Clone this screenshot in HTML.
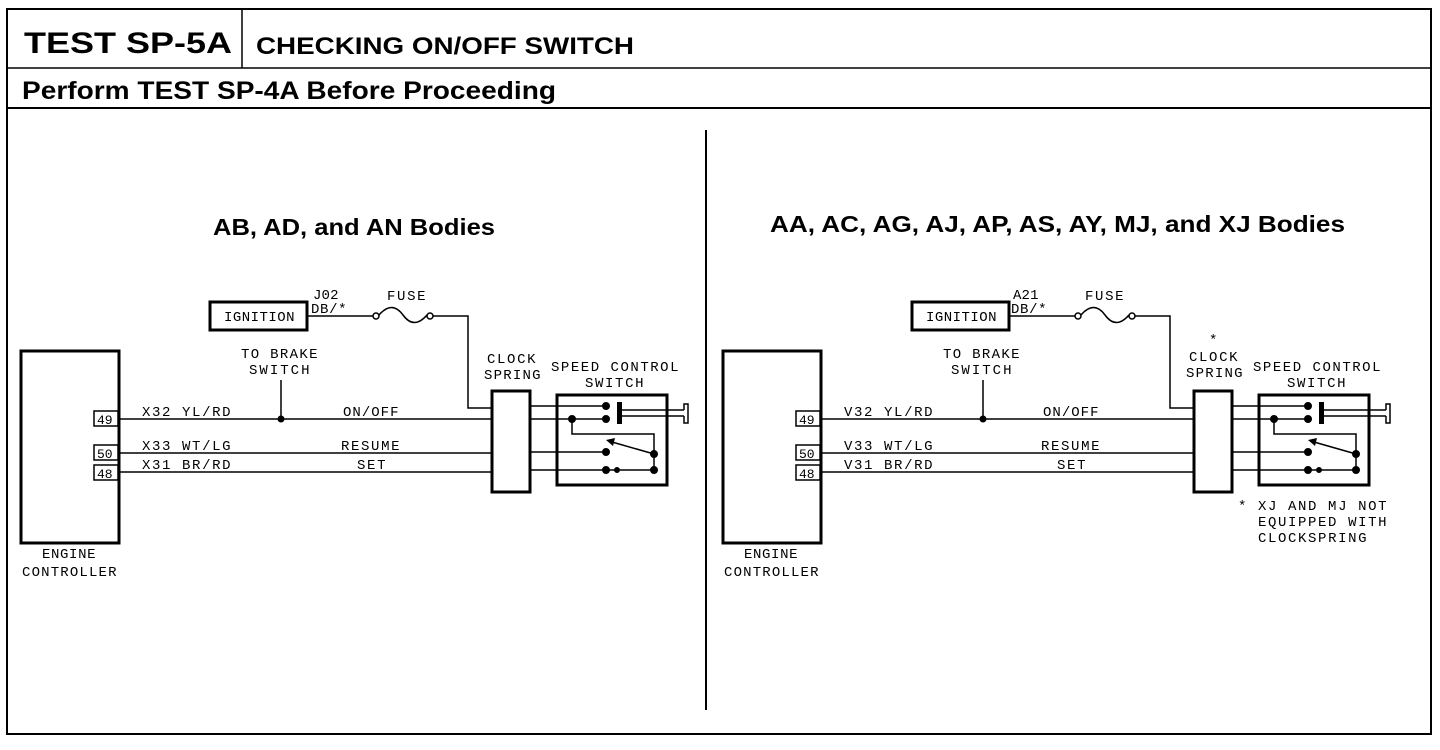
<!DOCTYPE html>
<html><head><meta charset="utf-8"><style>
html,body{margin:0;padding:0;background:#fff;width:1440px;height:750px;overflow:hidden}
svg{display:block}
.h{font-family:"Liberation Sans",sans-serif;font-weight:bold;fill:#000}
.m{font-family:"Liberation Mono",monospace;font-size:14px;fill:#000;letter-spacing:1.5px}
.p{font-family:"Liberation Mono",monospace;font-size:13px;fill:#000}
</style></head><body>
<svg width="1440" height="750" viewBox="0 0 1440 750" xmlns="http://www.w3.org/2000/svg">
<rect x="7" y="9" width="1424" height="725" fill="none" stroke="#000" stroke-width="2"/>
<line x1="242" y1="9" x2="242" y2="68" stroke="#000" stroke-width="1.5"/>
<line x1="7" y1="68" x2="1431" y2="68" stroke="#000" stroke-width="1.5"/>
<line x1="7" y1="108" x2="1431" y2="108" stroke="#000" stroke-width="2"/>
<text class="h" x="24" y="53" font-size="30" textLength="208" lengthAdjust="spacingAndGlyphs">TEST SP-5A</text>
<text class="h" x="256" y="54" font-size="24" textLength="378" lengthAdjust="spacingAndGlyphs">CHECKING ON/OFF SWITCH</text>
<text class="h" x="22" y="99" font-size="25" textLength="534" lengthAdjust="spacingAndGlyphs">Perform TEST SP-4A Before Proceeding</text>
<line x1="706" y1="130" x2="706" y2="710" stroke="#000" stroke-width="2"/>
<text class="h" x="213" y="235" font-size="23" textLength="282" lengthAdjust="spacingAndGlyphs">AB, AD, and AN Bodies</text>
<text class="h" x="770" y="232" font-size="23" textLength="575" lengthAdjust="spacingAndGlyphs">AA, AC, AG, AJ, AP, AS, AY, MJ, and XJ Bodies</text>

<defs>
<g id="d" fill="none" stroke="#000">
<rect x="21" y="351" width="98" height="192" stroke-width="3"/>
<rect x="94" y="411" width="24" height="15" stroke-width="1.5" fill="#fff"/>
<rect x="94" y="445" width="24" height="15" stroke-width="1.5" fill="#fff"/>
<rect x="94" y="465" width="24" height="15" stroke-width="1.5" fill="#fff"/>
<line x1="119" y1="419" x2="492" y2="419" stroke-width="1.5"/>
<line x1="119" y1="453" x2="492" y2="453" stroke-width="1.5"/>
<line x1="119" y1="472" x2="492" y2="472" stroke-width="1.5"/>
<line x1="281" y1="380" x2="281" y2="419" stroke-width="1.5"/>
<circle cx="281" cy="419" r="3" fill="#000"/>
<rect x="210" y="302" width="97" height="28" stroke-width="3"/>
<line x1="307" y1="316" x2="373" y2="316" stroke-width="1.5"/>
<circle cx="376" cy="316" r="3" stroke-width="1.5"/>
<path d="M379 315 Q392 300 403 315 Q414 330 427 315" stroke-width="1.5"/>
<circle cx="430" cy="316" r="3" stroke-width="1.5"/>
<polyline points="433,316 468,316 468,408 492,408" stroke-width="1.5"/>
<rect x="492" y="391" width="38" height="101" stroke-width="3"/>
<line x1="530" y1="406" x2="606" y2="406" stroke-width="1.5"/>
<line x1="530" y1="419" x2="606" y2="419" stroke-width="1.5"/>
<line x1="530" y1="452" x2="606" y2="452" stroke-width="1.5"/>
<line x1="530" y1="470" x2="654" y2="470" stroke-width="1.5"/>
<rect x="557" y="395" width="110" height="90" stroke-width="3"/>
<circle cx="606" cy="406" r="3.5" fill="#000"/>
<circle cx="606" cy="419" r="3.5" fill="#000"/>
<rect x="617" y="402" width="5" height="22" fill="#000" stroke="none"/>
<line x1="622" y1="410" x2="684" y2="410" stroke-width="1.5"/>
<line x1="622" y1="416" x2="684" y2="416" stroke-width="1.5"/>
<path d="M684 410 L684 404 L688 404 L688 423 L684 423 L684 416" stroke-width="1.5"/>
<circle cx="572" cy="419" r="3.5" fill="#000"/>
<polyline points="572,419 572,434 654,434 654,470" stroke-width="1.5"/>
<circle cx="606" cy="452" r="3.5" fill="#000"/>
<circle cx="654" cy="454" r="3.5" fill="#000"/>
<circle cx="606" cy="470" r="3.5" fill="#000"/>
<circle cx="617" cy="470" r="2.5" fill="#000"/>
<circle cx="654" cy="470" r="3.5" fill="#000"/>
<line x1="654" y1="454" x2="612" y2="442" stroke-width="1.5"/>
<path d="M606 440 L615 438 L613 446 Z" fill="#000" stroke="none"/>
</g>
</defs>
<use href="#d"/>
<use href="#d" transform="translate(702,0)"/>

<g class="p">
<text x="97" y="424">49</text><text x="97" y="458">50</text><text x="97" y="478">48</text>
<text x="799" y="424">49</text><text x="799" y="458">50</text><text x="799" y="478">48</text>
</g>
<g class="m">
<text x="42" y="558" textLength="55">ENGINE</text>
<text x="22" y="576" textLength="96">CONTROLLER</text>
<text x="744" y="558" textLength="55">ENGINE</text>
<text x="724" y="576" textLength="96">CONTROLLER</text>
<text x="224" y="321" textLength="72">IGNITION</text>
<text x="926" y="321" textLength="72">IGNITION</text>
<text x="313" y="299" textLength="27">J02</text>
<text x="311" y="313" textLength="37">DB/*</text>
<text x="1013" y="299" textLength="27">A21</text>
<text x="1011" y="313" textLength="37">DB/*</text>
<text x="387" y="300" textLength="40">FUSE</text>
<text x="1085" y="300" textLength="40">FUSE</text>
<text x="241" y="358" textLength="78">TO BRAKE</text>
<text x="249" y="374" textLength="62">SWITCH</text>
<text x="943" y="358" textLength="78">TO BRAKE</text>
<text x="951" y="374" textLength="62">SWITCH</text>
<text x="142" y="416" textLength="90">X32 YL/RD</text>
<text x="142" y="450" textLength="90">X33 WT/LG</text>
<text x="142" y="469" textLength="90">X31 BR/RD</text>
<text x="844" y="416" textLength="90">V32 YL/RD</text>
<text x="844" y="450" textLength="90">V33 WT/LG</text>
<text x="844" y="469" textLength="90">V31 BR/RD</text>
<text x="343" y="416" textLength="57">ON/OFF</text>
<text x="341" y="450" textLength="60">RESUME</text>
<text x="357" y="469" textLength="30">SET</text>
<text x="1043" y="416" textLength="57">ON/OFF</text>
<text x="1041" y="450" textLength="60">RESUME</text>
<text x="1057" y="469" textLength="30">SET</text>
<text x="487" y="363" textLength="50">CLOCK</text>
<text x="484" y="379" textLength="58">SPRING</text>
<text x="1209" y="344">*</text>
<text x="1189" y="361" textLength="50">CLOCK</text>
<text x="1186" y="377" textLength="58">SPRING</text>
<text x="551" y="371" textLength="129">SPEED CONTROL</text>
<text x="585" y="387" textLength="60">SWITCH</text>
<text x="1253" y="371" textLength="129">SPEED CONTROL</text>
<text x="1287" y="387" textLength="60">SWITCH</text>
<text x="1238" y="510">*</text>
<text x="1258" y="510" textLength="130">XJ AND MJ NOT</text>
<text x="1258" y="526" textLength="130">EQUIPPED WITH</text>
<text x="1258" y="542" textLength="110">CLOCKSPRING</text>
</g>
</svg>
</body></html>
